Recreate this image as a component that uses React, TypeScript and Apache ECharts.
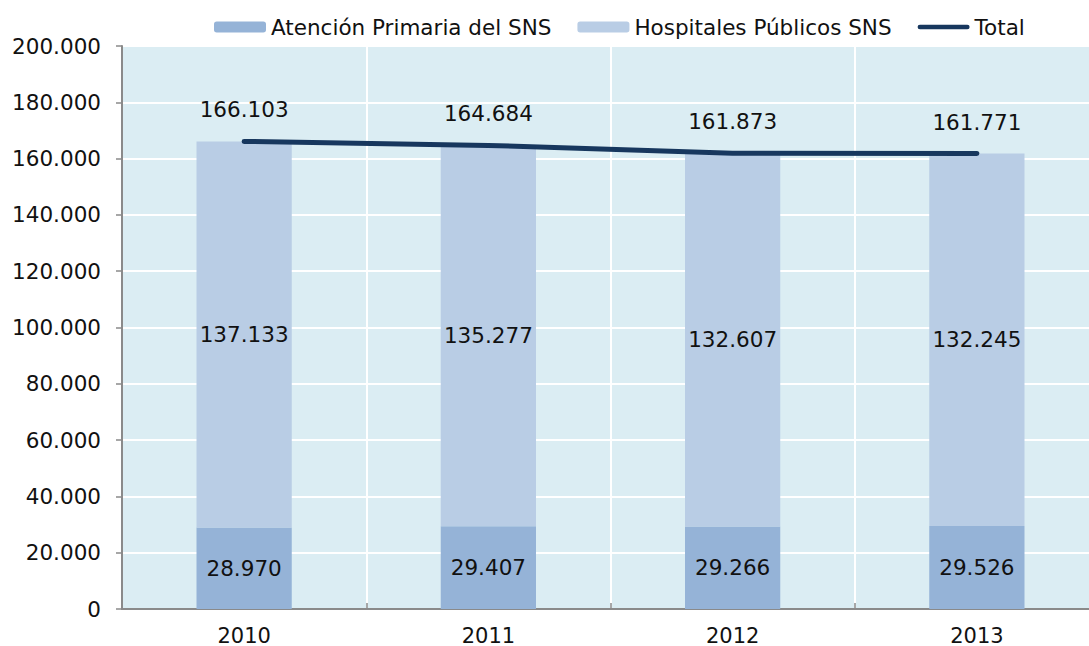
import React, { useEffect, useRef } from "react";
import * as echarts from "echarts";

const years = ["2010", "2011", "2012", "2013"];
const atencionPrimaria = [28970, 29407, 29266, 29526];
const hospitales = [137133, 135277, 132607, 132245];
const total = [166103, 164684, 161873, 161771];

const FONT = "DejaVu Sans";
const fmt = (v: number) => {
  const s = String(Math.round(v));
  return s.replace(/\B(?=(\d{3})+(?!\d))/g, ".");
};

export default function App() {
  const ref = useRef<HTMLDivElement>(null);
  useEffect(() => {
    if (!ref.current) return;
    const chart = echarts.init(ref.current, undefined, { renderer: "svg" });
    const labelStyle = { fontFamily: FONT, fontSize: 21.5, color: "#111" };
    chart.setOption({
      animation: false,
      textStyle: { fontFamily: FONT },
      legend: {
        top: 11,
        left: 209,
        itemWidth: 52,
        itemHeight: 11,
        itemGap: 26,
        textStyle: { fontFamily: FONT, fontSize: 21.5, color: "#111" },
        data: [
          { name: "Atención Primaria del SNS" },
          { name: "Hospitales Públicos SNS" },
          {
            name: "Total",
            icon: "path://M0,0L52,0L52,0ZM2,3.2H50A2.3,2.3,0,0,1,50,7.8H2A2.3,2.3,0,0,1,2,3.2ZM0,11L52,11L52,11Z",
            itemStyle: { color: "#17375e", borderWidth: 0 },
          },
        ],
      },
      grid: {
        left: 122,
        right: 0,
        top: 46,
        bottom: 37,
        show: true,
        backgroundColor: "#dbedf3",
        borderWidth: 0,
      },
      xAxis: {
        type: "category",
        data: years,
        boundaryGap: true,
        axisLine: { show: true, lineStyle: { color: "#8a8a8a", width: 2 } },
        axisTick: { show: true, inside: true, length: 6, lineStyle: { color: "#8a8a8a", width: 1.5 } },
        axisLabel: { fontFamily: FONT, fontSize: 21, color: "#111", margin: 16 },
        splitLine: { show: true, lineStyle: { color: "#ffffff", width: 2 } },
      },
      yAxis: {
        type: "value",
        min: 0,
        max: 200000,
        interval: 20000,
        axisLine: { show: true, lineStyle: { color: "#8a8a8a", width: 2 } },
        axisTick: { show: true, length: 6, lineStyle: { color: "#8a8a8a", width: 1.5 } },
        axisLabel: { fontFamily: FONT, fontSize: 21.5, color: "#111", margin: 21, formatter: (v: number) => fmt(v) },
        splitLine: { show: true, lineStyle: { color: "#ffffff", width: 2 } },
      },
      series: [
        {
          name: "Atención Primaria del SNS",
          type: "bar",
          stack: "a",
          barWidth: "39%",
          data: atencionPrimaria,
          itemStyle: { color: "#95b3d7" },
          label: { show: true, position: "inside", ...labelStyle, formatter: (p: any) => fmt(p.value) },
        },
        {
          name: "Hospitales Públicos SNS",
          type: "bar",
          stack: "a",
          barWidth: "39%",
          data: hospitales,
          itemStyle: { color: "#b9cde5" },
          label: { show: true, position: "inside", ...labelStyle, formatter: (p: any) => fmt(p.value) },
        },
        {
          name: "Total",
          type: "line",
          data: total,
          symbol: "none",
          lineStyle: { color: "#17375e", width: 5, cap: "round" },
          itemStyle: { color: "#17375e" },
        },
        {
          name: "TotalLabels",
          type: "scatter",
          data: total,
          symbol: "circle",
          symbolSize: 1,
          itemStyle: { color: "rgba(0,0,0,0)", opacity: 1 },
          label: { show: true, position: "top", distance: 20, ...labelStyle, formatter: (p: any) => fmt(p.value) },
          z: 5,
        },
      ],
    });
    return () => chart.dispose();
  }, []);
  return (
    <div style={{ position: "fixed", left: 0, top: 0, width: 1089, height: 646, background: "#fff", overflow: "hidden" }}>
      <div ref={ref} style={{ width: 1099, height: 646 }} />
    </div>
  );
}
